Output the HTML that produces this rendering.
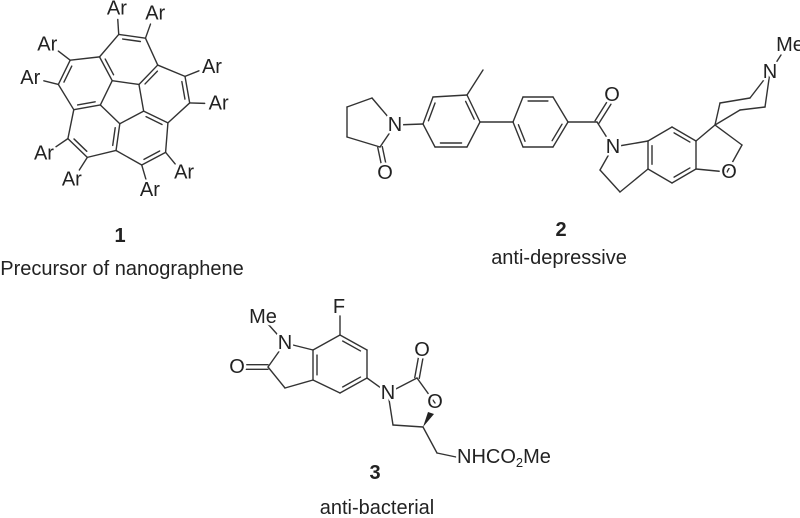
<!DOCTYPE html>
<html><head><meta charset="utf-8"><style>
html,body{margin:0;padding:0;background:#fff}
svg{display:block}
text{font-family:"Liberation Sans",Arial,sans-serif;fill:#222}
.l{stroke:#333;stroke-width:1.4;fill:none;stroke-linecap:round}
.lab{stroke:#fff;stroke-width:5;paint-order:stroke;stroke-linejoin:round}
</style></head><body>
<svg id="s" width="800" height="518" viewBox="0 0 800 518" xmlns="http://www.w3.org/2000/svg">
<g id="bonds"></g>
<g id="labels" font-size="20" text-anchor="middle" dominant-baseline="central"></g>
<g font-size="20" text-anchor="middle" dominant-baseline="central">
<text x="120" y="236" font-weight="bold">1</text>
<text x="122" y="269">Precursor of nanographene</text>
<text x="561" y="230" font-weight="bold">2</text>
<text x="559" y="258">anti-depressive</text>
<text x="375" y="473" font-weight="bold">3</text>
<text x="377" y="508">anti-bacterial</text>
</g>
</svg>
<script>
var B=document.getElementById('bonds'),L=document.getElementById('labels');
var NS='http://www.w3.org/2000/svg';
function ln(a,b){var e=document.createElementNS(NS,'line');e.setAttribute('x1',a[0]);e.setAttribute('y1',a[1]);e.setAttribute('x2',b[0]);e.setAttribute('y2',b[1]);e.setAttribute('class','l');B.appendChild(e);}
function inner(a,b,c){
 var mx=(a[0]+b[0])/2,my=(a[1]+b[1])/2,dx=b[0]-a[0],dy=b[1]-a[1],len=Math.hypot(dx,dy);
 var nx=-dy/len,ny=dx/len; if((c[0]-mx)*nx+(c[1]-my)*ny<0){nx=-nx;ny=-ny;}
 var o=4,s=0.17;
 ln([a[0]+dx*s+nx*o,a[1]+dy*s+ny*o],[b[0]-dx*s+nx*o,b[1]-dy*s+ny*o]);}
function dbl(a,b){var dx=b[0]-a[0],dy=b[1]-a[1],len=Math.hypot(dx,dy),nx=-dy/len*2.3,ny=dx/len*2.3;
 ln([a[0]+nx,a[1]+ny],[b[0]+nx,b[1]+ny]);ln([a[0]-nx,a[1]-ny],[b[0]-nx,b[1]-ny]);}
function tx(x,y,t){var e=document.createElementNS(NS,'text');e.setAttribute('x',x);e.setAttribute('y',y);e.setAttribute('class','lab');e.textContent=t;L.appendChild(e);return e;}
function cen(pts){var x=0,y=0;pts.forEach(p=>{x+=p[0];y+=p[1]});return[x/pts.length,y/pts.length];}
(function(){
 var cx=123,cy=101,b=27,a0=-82*Math.PI/180,d=Math.PI/180;
 function P(r,a){return[cx+r*Math.cos(a),cy+r*Math.sin(a)];}
 function Q(k,along,lat){var a=a0+72*k*d,u=[Math.cos(a),Math.sin(a)],v=[-u[1],u[0]];return[cx+along*u[0]+lat*v[0],cy+along*u[1]+lat*v[1]];}
 var H=[],S=[];
 for(var k=0;k<5;k++){H.push(P(0.851*b,a0+(72*k+36)*d));S.push(P(1.851*b,a0+(72*k+36)*d));}
 for(var k=0;k<5;k++)ln(H[k],H[(k+1)%5]);
 for(var k=0;k<5;k++){
  var km=(k+4)%5,hc=Q(k,1.554*b,0);
  var R1=Q(k,2.42*b,-0.5*b),R2=Q(k,2.42*b,0.5*b);
  var Sa=S[km],Sb=S[k];
  var d1=Math.hypot(Sa[0]-R1[0],Sa[1]-R1[1]),d2=Math.hypot(Sa[0]-R2[0],Sa[1]-R2[1]);
  if(d2<d1){var t=R1;R1=R2;R2=t;}
  ln(H[k],S[k]);ln(Sa,R1);ln(R1,R2);ln(R2,Sb);
  inner(R1,R2,hc);inner(H[km],Sa,hc);
  [R1,R2].forEach(function(R){var dx=R[0]-cx,dy=R[1]-cy,l=Math.hypot(dx,dy);
   ln(R,[R[0]+dx/l*15,R[1]+dy/l*15]);tx(R[0]+dx/l*29,R[1]+dy/l*26,'Ar');});
 }
})();
(function(){
 var N1=[395,125],c4=[372,98],c5=[347,107],c3=[347,137],c2=[380,147];
 ln(N1,c4);ln(c4,c5);ln(c5,c3);ln(c3,c2);ln(c2,N1);dbl(c2,[384,166]);
 var r1=[[423,124],[433,97],[467,95],[480,122],[467,147],[435,147]],c=cen(r1);
 ln(N1,r1[0]);for(var i=0;i<6;i++)ln(r1[i],r1[(i+1)%6]);
 inner(r1[0],r1[1],c);inner(r1[2],r1[3],c);inner(r1[4],r1[5],c);
 ln(r1[2],[483,70]);
 var r2=[[513,122],[523,97],[553,97],[568,122],[553,147],[523,147]],c2c=cen(r2);
 ln(r1[3],r2[0]);for(var i=0;i<6;i++)ln(r2[i],r2[(i+1)%6]);
 inner(r2[1],r2[2],c2c);inner(r2[3],r2[4],c2c);inner(r2[5],r2[0],c2c);
 var co=[597,122];ln(r2[3],co);dbl(co,[609,103]);
 var N2=[613,147];ln(co,N2);
 var h=[[648,141],[672,127],[696,141],[696,169],[672,183],[648,169]],hc=cen(h);
 for(var i=0;i<6;i++)ln(h[i],h[(i+1)%6]);
 inner(h[5],h[0],hc);inner(h[1],h[2],hc);inner(h[3],h[4],hc);
 ln(N2,h[0]);ln(N2,[600,170]);ln([600,170],[620,192]);ln([620,192],h[5]);
 var sp=[715,125],O=[727,172],ch=[742,145];
 ln(h[2],sp);ln(h[3],O);ln(sp,ch);ln(ch,O);
 var N3=[770,72];ln(sp,[720,103]);ln([720,103],[750,98]);ln([750,98],N3);
 ln(sp,[740,110]);ln([740,110],[765,107]);ln([765,107],N3);ln(N3,[781,55]);
 tx(395,125,'N');tx(385,173,'O');tx(612,95,'O');tx(613,147,'N');tx(729,172,'O');tx(770,72,'N');tx(790,45,'Me');
})();
(function(){
 var N=[285,343],C2=[268,367],CH=[285,388];
 var h=[[313,350],[340,335],[367,350],[367,378],[340,393],[313,380]],hc=cen(h);
 for(var i=0;i<6;i++)ln(h[i],h[(i+1)%6]);
 inner(h[5],h[0],hc);inner(h[1],h[2],hc);inner(h[3],h[4],hc);
 ln(h[0],N);ln(N,C2);ln(C2,CH);ln(CH,h[5]);dbl(C2,[245,367]);ln(N,[268,324]);
 ln(h[1],[340,316]);
 var N2=[388,393],C2p=[417,378],O1=[435,403],C5=[423,427],C4=[393,425],CH2=[437,453];
 ln(h[3],N2);ln(N2,C2p);dbl(C2p,[421,356]);ln(C2p,O1);ln(C5,C4);ln(C4,N2);ln(C5,CH2);ln(CH2,[456,457]);
 var w=document.createElementNS(NS,'polygon');w.setAttribute('points','423,427 428,412 434,414');w.setAttribute('fill','#222');B.appendChild(w);
 tx(285,343,'N');tx(237,367,'O');tx(263,317,'Me');tx(339,307,'F');tx(388,393,'N');tx(422,350,'O');tx(435,402,'O');
 var t=tx(457,457,'NHCO');t.setAttribute('text-anchor','start');
 var s=document.createElementNS(NS,'tspan');s.setAttribute('font-size','13');s.setAttribute('dy','5');s.textContent='2';t.appendChild(s);
 var s2=document.createElementNS(NS,'tspan');s2.setAttribute('dy','-5');s2.textContent='Me';t.appendChild(s2);
})();
</script>
</body></html>
